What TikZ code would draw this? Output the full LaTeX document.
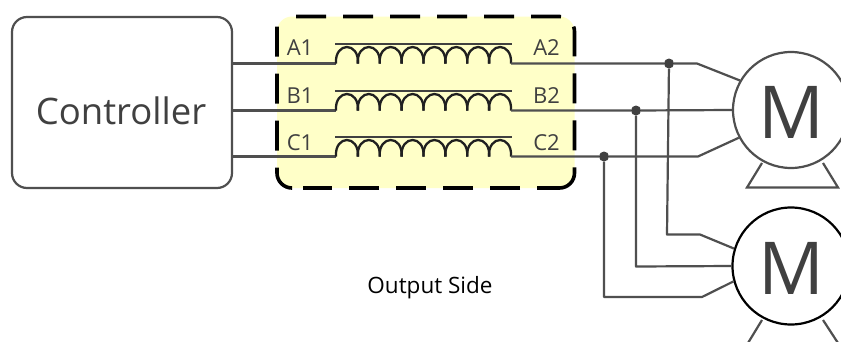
\documentclass[tikz,border=0pt]{standalone}
\usepackage{fontspec}
\setmainfont{Open Sans}
\definecolor{wire}{HTML}{4F4F4F}
\definecolor{ink}{HTML}{404040}
\definecolor{lemon}{HTML}{FFFFC8}
\begin{document}
\begin{tikzpicture}[x=1pt,y=-1pt,
  wireline/.style={draw=wire,line width=2.2pt,line join=round},
  corebar/.style={draw=ink,line width=2.2pt},
  coilline/.style={draw=ink!50!black,line width=2.3pt},
  dotnode/.style={circle,fill=ink,inner sep=0pt,minimum size=10pt},
  terminal/.style={text=ink,font=\fontsize{22}{22}\selectfont,inner sep=0pt},
  motorbody/.style={circle,fill=white,inner sep=0pt,minimum size=116pt},
  motorletter/.style={text=ink,inner sep=0pt,font=\fontsize{73}{73}\selectfont},
  footline/.style={draw=wire,line width=2.2pt,line join=miter},
  boxdash/.style={draw=black,line width=3.6pt,rounded corners=15pt,dash pattern=on 30pt off 17pt}]
\useasboundingbox (0,0) rectangle (841,341);
\fill[white] (0,0) rectangle (841,341);
% transformer box
\node[fill=lemon,rounded corners=15pt,minimum width=297.5pt,minimum height=171.5pt,inner sep=0pt,outer sep=0pt] (tbox) at (425.75,102.25) {};
\draw[boxdash] (296,16.5) -- (574.5,16.5) -- (574.5,188) -- (560,188);
\draw[boxdash,dash phase=7pt] (560,188) -- (303,188);
\draw[boxdash] (291,188) -- (277,188) -- (277,24);
% controller
\node[draw=wire,fill=white,line width=2.2pt,rounded corners=15pt,minimum width=220pt,minimum height=171pt,
  inner sep=0pt,outer sep=0pt] (ctrl) at (122,102.5) {};
\node[text=ink,inner sep=0pt,font=\fontsize{36.5}{36.5}\selectfont] (ctrltext) at (121,111) {Controller};
% motors
\draw[footline] (762,163) -- (747,187.5) -- (838,187.5) -- (823,163);
\draw[footline] (762,320) -- (748,343);
\draw[footline] (823,320) -- (838,343);
\node[motorbody,draw=wire,line width=2.2pt] (m1) at (791,110) {};
\node[motorbody,draw=black,line width=2.2pt,minimum size=117pt] (m2) at (791,266) {};
\node[motorletter] (m1text) at (791,112) {M};
\node[motorletter] (m2text) at (791,268) {M};
% terminals
\node[terminal] (a1) at (300,48) {A1};
\node[terminal] (b1) at (300,95.5) {B1};
\node[terminal] (c1) at (300,142.5) {C1};
\node[terminal] (a2) at (546.5,48) {A2};
\node[terminal] (b2) at (546.5,95.5) {B2};
\node[terminal] (c2) at (546.5,142.5) {C2};
% coils
\foreach \n/\y in {a/63.5,b/110.5,c/156.5}{
  \coordinate (\n-in) at (336,\y);
  \coordinate (\n-out) at (511,\y);
  \coordinate (\n-ctrl) at (232,\y);
  \pgfmathsetmacro{\core}{\y-19.5}
  \draw[corebar] (335,\core) -- (512,\core);
  \draw[wireline] (\n-ctrl) -- (\n-in);
  \foreach \i in {0,...,7}{
    \pgfmathsetmacro{\xa}{336+\i*21.875}
    \pgfmathsetmacro{\xb}{\xa+21.875}
    \pgfmathsetmacro{\top}{\y-22}
    \draw[coilline] (\xa,\y) .. controls (\xa-1.5,\top) and (\xb+1.5,\top) .. (\xb,\y);
  }
}
% dots
\node[dotnode] (da) at (669,63.5) {};
\node[dotnode] (db) at (636,110.5) {};
\node[dotnode] (dc) at (604,156.5) {};
% motor 1 wires
\draw[wireline] (a-out) -- (da) -- (697,63.5) -- (m1.150);
\draw[wireline] (b-out) -- (db) -- (m1.180);
\draw[wireline] (c-out) -- (dc) -- (698,156.5) -- (m1.208);
% motor 2 wires
\draw[wireline] (da) -- (667,234.5) -- (700,234.5) -- (m2.163);
\draw[wireline] (db) -- (636,266.5) -- (m2.west);
\draw[wireline] (dc) -- (604,297) -- (702,297) -- (m2.195);
% caption
\node[text=black,font=\fontsize{22.5}{22.5}\selectfont,inner sep=0pt] (cap) at (430,287.5) {Output Side};
\end{tikzpicture}
\end{document}
